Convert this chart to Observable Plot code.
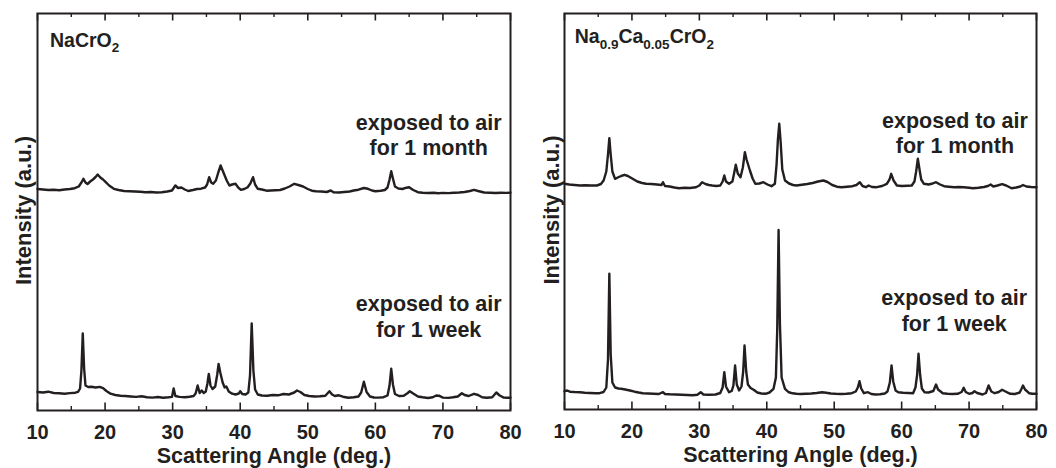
<!DOCTYPE html>
<html><head><meta charset="utf-8">
<script src="https://cdn.jsdelivr.net/npm/d3@7"></script>
<script src="https://cdn.jsdelivr.net/npm/@observablehq/plot@0.6"></script>
<style>
html,body{margin:0;padding:0;background:#fff;}
#wrap{display:flex;width:1056px;height:468px;}
#wrap > div{width:528px;height:468px;}
svg{display:block}
</style></head><body><div id="wrap"><div id="left"></div><div id="right"></div></div>
<script>
// ---- tick values ----
const xTicksMajor = [10, 20, 30, 40, 50, 60, 70, 80];
const xTicksMinor = [15, 25, 35, 45, 55, 65, 75];

// ---- NaCrO2, exposed 1 week: [angle, intensity a.u.] ----
const naWeek = [[10.0,18.5],[10.8,18],[11.6,18.8],[12.4,17.5],[13.2,17.2],[14.0,16.8],[14.8,17.4],[15.6,17.8],[16.0,18.6],[16.3,22],[16.5,40],[16.7,77],[16.9,42],[17.1,25],[17.5,23.5],[18.0,23.8],[18.6,23],[19.2,23.6],[19.7,22.4],[20.2,19.5],[20.8,16.8],[21.5,15.5],[22.3,14.8],[23.0,14.5],[23.8,14],[24.6,13.6],[25.4,14.2],[26.2,13.2],[27.0,12.9],[27.8,13.5],[28.6,12.8],[29.4,13.2],[29.9,13.6],[30.15,22],[30.4,14.5],[31.0,13.6],[31.8,13.3],[32.5,13.8],[33.1,14.5],[33.4,17],[33.7,25],[34.0,17.5],[34.3,20],[34.6,17.5],[34.9,19],[35.15,27],[35.35,36.5],[35.6,25],[35.9,21.5],[36.3,24],[36.6,36],[36.8,46.5],[37.05,38],[37.4,28],[37.7,23],[37.95,24],[38.3,19],[38.8,16.8],[39.3,16],[39.8,17],[40.0,19.3],[40.3,16.5],[40.8,16],[41.2,18],[41.45,35],[41.7,87],[41.95,40],[42.2,21],[42.6,16],[43.2,15],[44.0,14.8],[44.8,15.5],[45.6,15.2],[46.4,16.5],[47.2,16],[48.0,18],[48.4,20],[48.9,18.5],[49.5,15.5],[50.2,14.5],[51.0,14],[51.8,14.2],[52.6,14.8],[53.2,19.3],[53.6,16],[54.0,14.5],[54.6,15.2],[55.2,13.8],[56.0,12.8],[56.8,13.2],[57.5,14],[57.9,18],[58.3,28.8],[58.7,18.5],[59.2,14],[59.8,13],[60.5,12.9],[61.2,13.3],[61.8,15],[62.1,25],[62.35,41.7],[62.6,26],[62.9,16.5],[63.5,14.5],[64.2,14.8],[64.8,17.5],[65.1,19.3],[65.6,17],[66.3,14],[67.0,13.2],[67.8,12.5],[68.5,13.2],[69.0,15],[69.4,14.8],[70.0,12.9],[70.8,12.6],[71.5,13.2],[72.2,14],[72.8,17.3],[73.2,15.5],[73.8,14.5],[74.6,16.7],[75.2,15.5],[75.8,13.2],[76.5,12.8],[77.3,13.3],[77.9,18],[78.4,15],[79.0,12.9],[79.6,12.7],[80.0,12.8]];

// ---- NaCrO2, exposed 1 month ----
const naMonth = [[10.0,221.5],[10.8,221],[11.6,220.5],[12.4,220.8],[13.2,220.3],[14.0,221],[14.8,221.5],[15.5,222.3],[16.1,224],[16.5,228],[16.8,231.7],[17.1,228],[17.4,226.5],[17.8,229],[18.2,231],[18.6,233.5],[18.9,236],[19.3,233],[19.7,231],[20.1,228.3],[20.6,225],[21.3,221.7],[22.0,220.5],[22.8,219.5],[23.6,219.3],[24.4,219],[25.2,218.7],[26.0,218.2],[26.8,218.5],[27.6,218],[28.4,218.3],[29.2,219],[29.9,220],[30.4,225],[30.8,222.5],[31.3,223],[31.8,221],[32.3,219.5],[33.0,220.5],[33.6,221.5],[34.2,221.8],[34.8,223],[35.1,226],[35.4,233.3],[35.7,228],[36.0,226.7],[36.4,230],[36.8,239],[37.1,245],[37.4,240],[37.7,235],[38.0,230],[38.4,225],[38.8,226],[39.3,226.7],[39.7,223],[40.1,220.7],[40.6,221.5],[41.1,223.3],[41.5,227],[41.9,233.3],[42.2,226],[42.6,221.7],[43.2,221],[43.9,219.8],[44.5,220],[45.2,220.3],[45.9,220.5],[46.6,222],[47.3,224],[48.0,226.7],[48.6,225.5],[49.3,224],[50.0,221.5],[50.6,219.8],[51.2,219.3],[52.0,219],[52.8,218.5],[53.4,220],[53.8,218.3],[54.6,218],[55.4,218.5],[56.2,219],[56.8,220],[57.5,220.8],[58.3,222.5],[58.9,221.7],[59.5,220],[60.0,219.3],[60.8,219.8],[61.4,220.5],[61.8,223],[62.1,231],[62.35,239.3],[62.6,232],[62.9,224],[63.4,222],[64.0,221.5],[64.6,222.8],[65.0,223.3],[65.6,220.5],[66.3,218.3],[67.0,217.8],[67.8,217.5],[68.6,217.8],[69.3,217.3],[70.0,217.6],[70.8,217.4],[71.6,217.7],[72.4,218],[73.2,218.5],[74.0,219.5],[74.6,220.7],[75.2,219.5],[76.1,218],[77.0,217.7],[77.8,217.5],[78.6,217.8],[79.3,217.6],[80.0,217.7]];

// ---- Na0.9Ca0.05CrO2, exposed 1 week ----
const caWeek = [[10.0,18.3],[10.4,19],[10.8,17.8],[11.5,17.5],[12.3,17.3],[13.0,16.8],[13.8,16.5],[14.6,16.3],[15.2,16.3],[15.8,17.5],[16.2,22],[16.45,50],[16.65,135.7],[16.85,55],[17.1,27],[17.5,22],[18.0,21],[18.4,20.7],[19.0,20],[19.7,19],[20.4,17.8],[21.0,17],[21.6,16.3],[22.4,16],[23.2,15.8],[24.0,15.5],[24.6,17.3],[24.9,15.5],[25.6,15.2],[26.5,15],[27.4,14.8],[28.2,14.5],[29.0,14.3],[29.7,14.8],[30.2,17.3],[30.6,15],[31.4,14.8],[32.4,15],[33.1,16.5],[33.45,22],[33.7,37.3],[33.95,23],[34.4,17.3],[34.8,18.5],[35.05,24],[35.3,44],[35.55,25],[35.9,19],[36.25,23],[36.5,38],[36.7,64],[36.95,38],[37.2,25],[37.6,21.5],[38.1,19.5],[38.6,17],[39.2,16],[39.8,15.7],[40.4,17],[41.0,20.7],[41.35,32],[41.55,80],[41.75,179.5],[41.95,85],[42.2,32],[42.7,20.7],[43.2,17.5],[43.8,16.2],[44.4,15.7],[45.0,15.5],[45.8,15.8],[46.6,16],[47.4,16.5],[48.2,17.3],[48.8,16.8],[49.5,16],[50.2,15.7],[51.0,15.5],[51.8,15.8],[52.6,16.3],[53.2,18],[53.5,22],[53.75,28.3],[54.0,21],[54.4,16.3],[55.0,17.3],[55.5,15.5],[56.1,15],[56.8,15.3],[57.5,16],[57.9,18],[58.25,27],[58.5,44],[58.75,28],[59.1,19],[59.5,17.3],[60.2,16.8],[61.0,16.5],[61.7,16.3],[62.05,22],[62.3,35],[62.5,55.7],[62.75,34],[63.0,21],[63.4,17.3],[64.0,17],[64.7,18.5],[65.1,25],[65.4,20],[66.1,16.3],[66.8,15.8],[67.5,15.5],[68.3,15.7],[68.9,17.5],[69.2,21.7],[69.5,17.5],[70.0,15.7],[70.5,16.5],[70.8,18.3],[71.2,16.5],[72.0,15],[72.5,16.5],[72.9,24],[73.3,18],[73.8,16.3],[74.4,17.5],[74.9,19.7],[75.4,18],[76.1,15.7],[76.8,15.5],[77.5,17],[77.8,21],[78.0,24],[78.3,20],[78.9,16.3],[79.4,15.8],[80.0,15.7]];

// ---- Na0.9Ca0.05CrO2, exposed 1 month ----
const caMonth = [[10.0,225.7],[10.7,225],[11.5,224.5],[12.3,224],[13.1,224.3],[13.9,224],[14.8,224],[15.4,225.5],[15.8,229],[16.2,238],[16.45,255],[16.65,271.3],[16.85,255],[17.1,238],[17.5,230.7],[17.9,232],[18.4,233.5],[18.9,234.7],[19.4,233.5],[20.1,230.7],[20.8,228],[21.5,226.5],[22.1,225.7],[22.9,225.5],[23.7,225],[24.4,224.5],[24.6,227.3],[24.9,223.5],[25.6,223],[26.3,222],[27.0,221.3],[27.8,221.8],[28.6,221.5],[29.5,222.3],[30.0,224],[30.4,227.3],[30.9,225.5],[31.4,224.5],[31.9,224],[32.5,223.5],[33.1,224],[33.45,228],[33.7,234],[33.95,228],[34.4,225.7],[34.9,228],[35.15,236],[35.4,244.7],[35.7,236],[36.1,232.3],[36.45,242],[36.75,257.3],[37.0,250],[37.5,239],[37.9,231],[38.3,225.7],[38.9,226],[39.5,227.3],[40.1,225],[40.7,223.3],[41.2,225.7],[41.45,245],[41.65,270],[41.85,285.7],[42.05,268],[42.3,240],[42.7,229],[43.3,226],[43.9,224.5],[44.4,224],[45.2,224.8],[46.0,225.5],[46.8,226.5],[47.6,228],[48.4,229],[49.0,227.5],[49.7,224.5],[50.4,222.8],[51.1,222.3],[51.9,222.8],[52.7,223.3],[53.3,224.5],[53.8,227.3],[54.2,223.5],[54.7,222.3],[55.1,224],[55.6,222.5],[56.3,222.3],[57.1,223.5],[57.8,225.7],[58.2,230],[58.45,235.7],[58.8,229],[59.3,224],[60.0,223.5],[60.8,223.8],[61.5,224],[61.9,228],[62.15,238],[62.4,250.7],[62.65,240],[62.9,230],[63.3,225.7],[64.0,225],[64.6,226],[65.1,227.3],[65.7,225],[66.3,223.3],[67.0,222.8],[67.8,222.3],[68.5,222.5],[69.2,222.3],[70.0,221.8],[70.6,221.3],[71.4,221.8],[72.2,222.5],[72.8,223.5],[73.2,225],[73.6,223],[74.2,224],[74.9,225.3],[75.5,224],[76.3,221.3],[77.0,222],[77.6,223],[78.0,224.5],[78.5,223],[79.2,222.5],[80.0,222.3]];

// ---- annotations (angle, intensity, text) ----
const notesLeft = [
  {angle: 67.9, intensity: 276, text: "exposed to air\nfor 1 month"},
  {angle: 67.9, intensity: 94.5, text: "exposed to air\nfor 1 week"}
];
const notesRight = [
  {angle: 67.9, intensity: 277, text: "exposed to air\nfor 1 month"},
  {angle: 67.8, intensity: 99.5, text: "exposed to air\nfor 1 week"}
];
const titleLeft = [["NaCrO", false], ["2", true]];
const titleRight = [["Na", false], ["0.9", true], ["Ca", false], ["0.05", true], ["CrO", false], ["2", true]];
const xLabel = "Scattering Angle (deg.)";
const yLabel = "Intensity (a.u.)";

const ink = "#231f20";
const font = "'Liberation Sans', Arial, Helvetica, sans-serif";

function panel(cfg) {
  const H = 468, top = 13;
  const innerH = H - top - cfg.marginBottom;
  const plot = Plot.plot({
    width: 528, height: H,
    marginTop: top, marginBottom: cfg.marginBottom,
    marginLeft: cfg.marginLeft, marginRight: cfg.marginRight,
    x: {domain: [10, 80], axis: null},
    y: {domain: [0, innerH], axis: null},
    style: {fontFamily: font, color: ink, background: "white", overflow: "visible"},
    marks: [
      Plot.line(cfg.week, {x: d => d[0], y: d => d[1], stroke: ink, strokeWidth: 2.4, strokeLinejoin: "round"}),
      Plot.line(cfg.month, {x: d => d[0], y: d => d[1], stroke: ink, strokeWidth: 2.4, strokeLinejoin: "round"}),
      Plot.frame({stroke: ink, strokeWidth: 2}),
      Plot.tickX(xTicksMajor, {x: d => d, insetTop: innerH - 7.5, stroke: ink, strokeWidth: 1.6}),
      Plot.tickX(xTicksMinor, {x: d => d, insetTop: innerH - 4, stroke: ink, strokeWidth: 1.4}),
      Plot.tickX(xTicksMajor, {x: d => d, insetBottom: innerH - 7.5, stroke: ink, strokeWidth: 1.6}),
      Plot.tickX(xTicksMinor, {x: d => d, insetBottom: innerH - 4, stroke: ink, strokeWidth: 1.4}),
      // tick labels
      Plot.text(xTicksMajor, {x: d => d, text: d => String(d), frameAnchor: "bottom", lineAnchor: "top", textAnchor: "middle", dy: 14.5, fontSize: 20, fontWeight: "bold", fill: ink}),
      Plot.text([xLabel], {text: d => d, frameAnchor: "bottom", lineAnchor: "middle", textAnchor: "middle", dy: 46, fontSize: 21.5, fontWeight: "bold", fill: ink}),
      Plot.text([yLabel], {text: d => d, frameAnchor: "left", lineAnchor: "middle", textAnchor: "middle", rotate: -90, dx: cfg.yLabelDx, dy: -1.5, fontSize: 22, fontWeight: "bold", fill: ink}),
      Plot.text(cfg.notes, {x: "angle", y: "intensity", text: "text", fontSize: 21.5, fontWeight: "bold", lineHeight: 1.17, fill: ink})
    ]
  });
  // chemical formula title with subscripts
  const t = d3.select(plot).append("text")
    .attr("x", cfg.titleX).attr("y", cfg.titleY)
    .attr("text-anchor", "start")
    .attr("font-family", font).attr("font-weight", "bold")
    .attr("font-size", 19.5).attr("fill", ink);
  let shifted = false;
  for (const [s, sub] of cfg.title) {
    const sp = t.append("tspan").text(s);
    if (sub && !shifted) { sp.attr("dy", 5.5).attr("font-size", 13.5); shifted = true; }
    else if (sub) { sp.attr("font-size", 13.5); }
    else if (shifted) { sp.attr("dy", -5.5); shifted = false; }
  }
  return plot;
}

document.getElementById("left").appendChild(panel({
  week: naWeek, month: naMonth, notes: notesLeft, title: titleLeft,
  marginLeft: 37, marginRight: 18, marginBottom: 58, yLabelDx: -14,
  titleX: 50, titleY: 46.5
}));
document.getElementById("right").appendChild(panel({
  week: caWeek, month: caMonth, notes: notesRight, title: titleRight,
  marginLeft: 36, marginRight: 20, marginBottom: 59, yLabelDx: -13,
  titleX: 46.7, titleY: 43
}));
</script>
</body></html>
